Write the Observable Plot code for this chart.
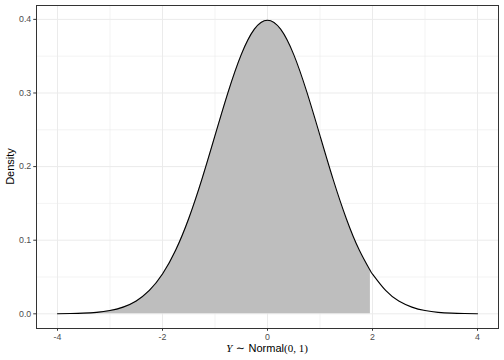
<!DOCTYPE html>
<html>
<head>
<meta charset="utf-8">
<script src="https://cdn.jsdelivr.net/npm/d3@7"></script>
<script src="https://cdn.jsdelivr.net/npm/@observablehq/plot@0.6"></script>
<style>
  html, body { margin: 0; padding: 0; background: #fff; }
  #chart svg { display: block; }
</style>
</head>
<body>
<div id="chart"></div>
<script>
// Values
const xs = [-4, -3.75, -3.5, -3.25, -3, -2.75, -2.5, -2.25, -2, -1.75, -1.5, -1.25, -1, -0.75, -0.5, -0.25,
            0, 0.25, 0.5, 0.75, 1, 1.25, 1.5, 1.75, 1.96, 2, 2.25, 2.5, 2.75, 3, 3.25, 3.5, 3.75, 4];
const dens = [0.0001, 0.0004, 0.0009, 0.0020, 0.0044, 0.0091, 0.0175, 0.0317, 0.0540, 0.0863, 0.1295, 0.1826,
              0.2420, 0.3011, 0.3521, 0.3867, 0.3989, 0.3867, 0.3521, 0.3011, 0.2420, 0.1826, 0.1295, 0.0863,
              0.0584, 0.0540, 0.0317, 0.0175, 0.0091, 0.0044, 0.0020, 0.0009, 0.0004, 0.0001];
const shadeUpTo = 1.96;
const xTicks = [-4, -2, 0, 2, 4];
const xMinor = [-3, -1, 1, 3];
const yTicks = [0, 0.1, 0.2, 0.3, 0.4];
const yMinor = [0.05, 0.15, 0.25, 0.35];
const yLabel = "Density";

const data = xs.map((x, i) => ({x, y: dens[i]}));
const shaded = data.filter(d => d.x <= shadeUpTo);

const W = 504, H = 360;
const plot = Plot.plot({
  width: W, height: H,
  marginLeft: 36, marginRight: 6, marginTop: 5, marginBottom: 32,
  style: {fontFamily: "'Liberation Sans', Arial, sans-serif", background: "#fff"},
  x: {domain: [-4.4, 4.4]},
  y: {domain: [-0.01995, 0.41885]},
  marks: [
    Plot.ruleX(xMinor, {stroke: "#EBEBEB", strokeWidth: 0.6}),
    Plot.ruleY(yMinor, {stroke: "#EBEBEB", strokeWidth: 0.6}),
    Plot.ruleX(xTicks, {stroke: "#EBEBEB", strokeWidth: 1}),
    Plot.ruleY(yTicks, {stroke: "#EBEBEB", strokeWidth: 1}),
    Plot.areaY(shaded, {x: "x", y: "y", fill: "#BEBEBE", curve: "natural"}),
    Plot.line(data, {x: "x", y: "y", stroke: "#000", strokeWidth: 1.1, curve: "natural"}),
    Plot.frame({stroke: "#333333", strokeWidth: 1}),
    Plot.axisX({ticks: xTicks, tickFormat: d => String(d).replace("-", "-"), tickSize: 2.75, tickPadding: 2.5,
                fontSize: 8.8, color: "#4D4D4D", stroke: "#333333", label: null}),
    Plot.axisY({ticks: yTicks, tickFormat: d3.format(".1f"), tickSize: 2.75, tickPadding: 2.5,
                fontSize: 8.8, color: "#4D4D4D", stroke: "#333333", label: null})
  ]
});

const svg = d3.select(plot);
svg.selectAll("[aria-label='x-axis tick label'] text, [aria-label='y-axis tick label'] text").attr("fill", "#4D4D4D");

// Y axis title
svg.append("text")
  .attr("transform", `translate(14, ${(5 + 328) / 2}) rotate(-90)`)
  .attr("text-anchor", "middle")
  .attr("font-family", "'Liberation Sans', Arial, sans-serif")
  .attr("font-size", 11)
  .attr("fill", "#000")
  .text(yLabel);

// X axis title: Y ~ Normal(0, 1)
const xt = svg.append("text")
  .attr("x", 267).attr("y", 352)
  .attr("text-anchor", "middle")
  .attr("font-size", 11)
  .attr("fill", "#000");
xt.append("tspan").attr("font-family", "'Liberation Serif', 'DejaVu Serif', serif").attr("font-style", "italic").text("Y");
xt.append("tspan").attr("font-family", "'DejaVu Serif', serif").text(" ∼ ");
xt.append("tspan").attr("font-family", "'Liberation Sans', Arial, sans-serif").text("Normal");
xt.append("tspan").attr("font-family", "'Liberation Serif', 'DejaVu Serif', serif").text("(0, 1)");

document.getElementById("chart").appendChild(plot);
</script>
</body>
</html>
